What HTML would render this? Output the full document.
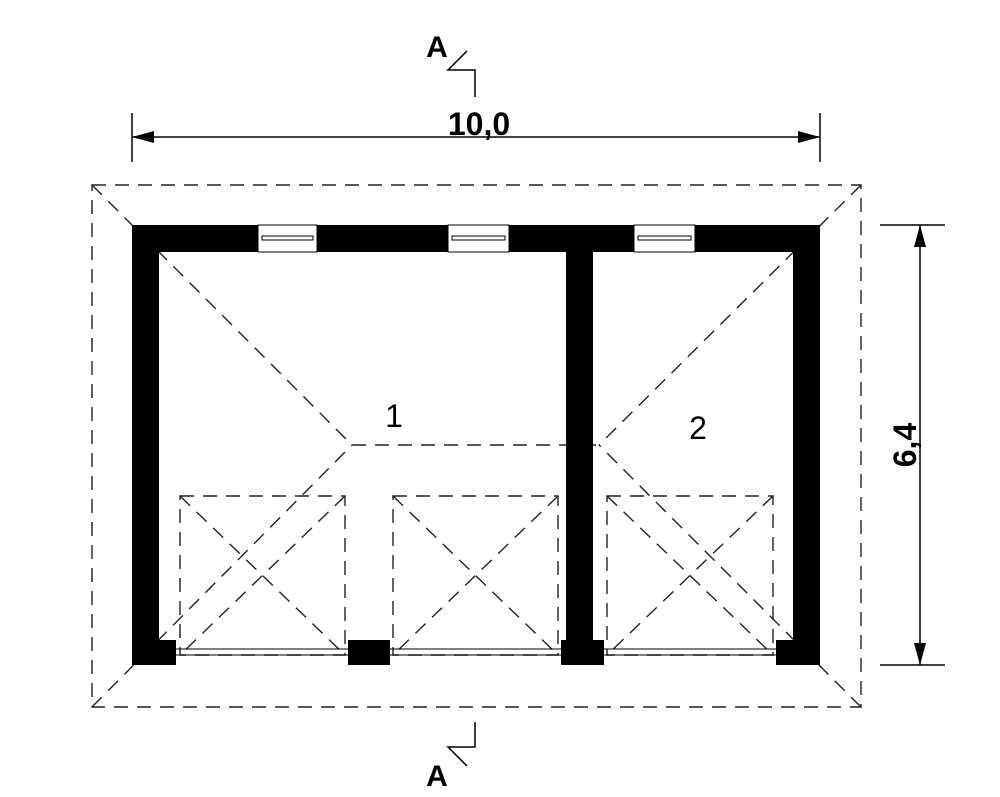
<!DOCTYPE html><html><head><style>body{margin:0;background:#fff}svg{display:block}</style></head><body>
<svg width="1000" height="797" viewBox="0 0 1000 797" xmlns="http://www.w3.org/2000/svg" font-family="Liberation Sans, DejaVu Sans, sans-serif">
<g fill="none" stroke="#222" stroke-width="1.4" stroke-dasharray="14,9">
<rect x="92" y="185" width="769" height="522"/>
<line x1="92" y1="185" x2="352" y2="445"/>
<line x1="92" y1="707" x2="352" y2="445"/>
<line x1="861" y1="185" x2="599" y2="445"/>
<line x1="861" y1="707" x2="599" y2="445"/>
<line x1="352" y1="445" x2="599" y2="445"/>
<rect x="180" y="496" width="165" height="159"/>
<line x1="180" y1="496" x2="345" y2="655"/><line x1="345" y1="496" x2="180" y2="655"/>
<rect x="393" y="496" width="165" height="159"/>
<line x1="393" y1="496" x2="558" y2="655"/><line x1="558" y1="496" x2="393" y2="655"/>
<rect x="607" y="496" width="166" height="159"/>
<line x1="607" y1="496" x2="773" y2="655"/><line x1="773" y1="496" x2="607" y2="655"/>
</g>
<g fill="#000">
<rect x="132" y="225" width="688" height="27"/>
<rect x="132" y="225" width="27" height="440"/>
<rect x="793" y="225" width="27" height="440"/>
<rect x="566" y="225" width="27" height="440"/>
<rect x="132" y="640" width="44" height="25"/>
<rect x="348" y="640" width="42" height="25"/>
<rect x="561" y="640" width="43" height="25"/>
<rect x="776" y="640" width="44" height="25"/>
</g>
<g fill="#fff" stroke="#000" stroke-width="1">
<rect x="258" y="225" width="59" height="27"/>
<rect x="448" y="225" width="61" height="27"/>
<rect x="634" y="225" width="61" height="27"/>
</g>
<g stroke="#000" stroke-width="1" fill="none">
<rect x="262" y="236" width="51" height="4"/>
<rect x="452" y="236" width="53" height="4"/>
<rect x="638" y="236" width="53" height="4"/>
<line x1="176" y1="649" x2="348" y2="649"/><line x1="176" y1="655" x2="348" y2="655"/>
<line x1="390" y1="649" x2="561" y2="649"/><line x1="390" y1="655" x2="561" y2="655"/>
<line x1="604" y1="649" x2="776" y2="649"/><line x1="604" y1="655" x2="776" y2="655"/>
</g>
<g stroke="#000" stroke-width="1.5" fill="none">
<line x1="132" y1="137" x2="820" y2="137"/>
<line x1="132" y1="113" x2="132" y2="162"/>
<line x1="820" y1="113" x2="820" y2="162"/>
<line x1="920" y1="225" x2="920" y2="665"/>
<line x1="880" y1="225" x2="945" y2="225"/>
<line x1="880" y1="665" x2="945" y2="665"/>
<polyline points="467,51 448,70 475,70 475,97"/>
<polyline points="475,722 475,747 448,747 467,766"/>
</g>
<g fill="#000">
<polygon points="132,137 154,131 154,143"/>
<polygon points="820,137 798,131 798,143"/>
<polygon points="920,225 914,247 926,247"/>
<polygon points="920,665 914,643 926,643"/>
</g>
<g font-weight="bold" fill="#000">
<text x="437" y="57" font-size="30" text-anchor="middle">A</text>
<text x="437" y="786" font-size="30" text-anchor="middle">A</text>
<text x="479" y="135" font-size="32" text-anchor="middle">10,0</text>
<text transform="translate(916,445) rotate(-90)" font-size="32" text-anchor="middle">6,4</text>
</g>
<text x="394" y="427" font-size="32" text-anchor="middle">1</text>
<text x="698" y="439" font-size="32" text-anchor="middle">2</text>
</svg>
</body></html>
